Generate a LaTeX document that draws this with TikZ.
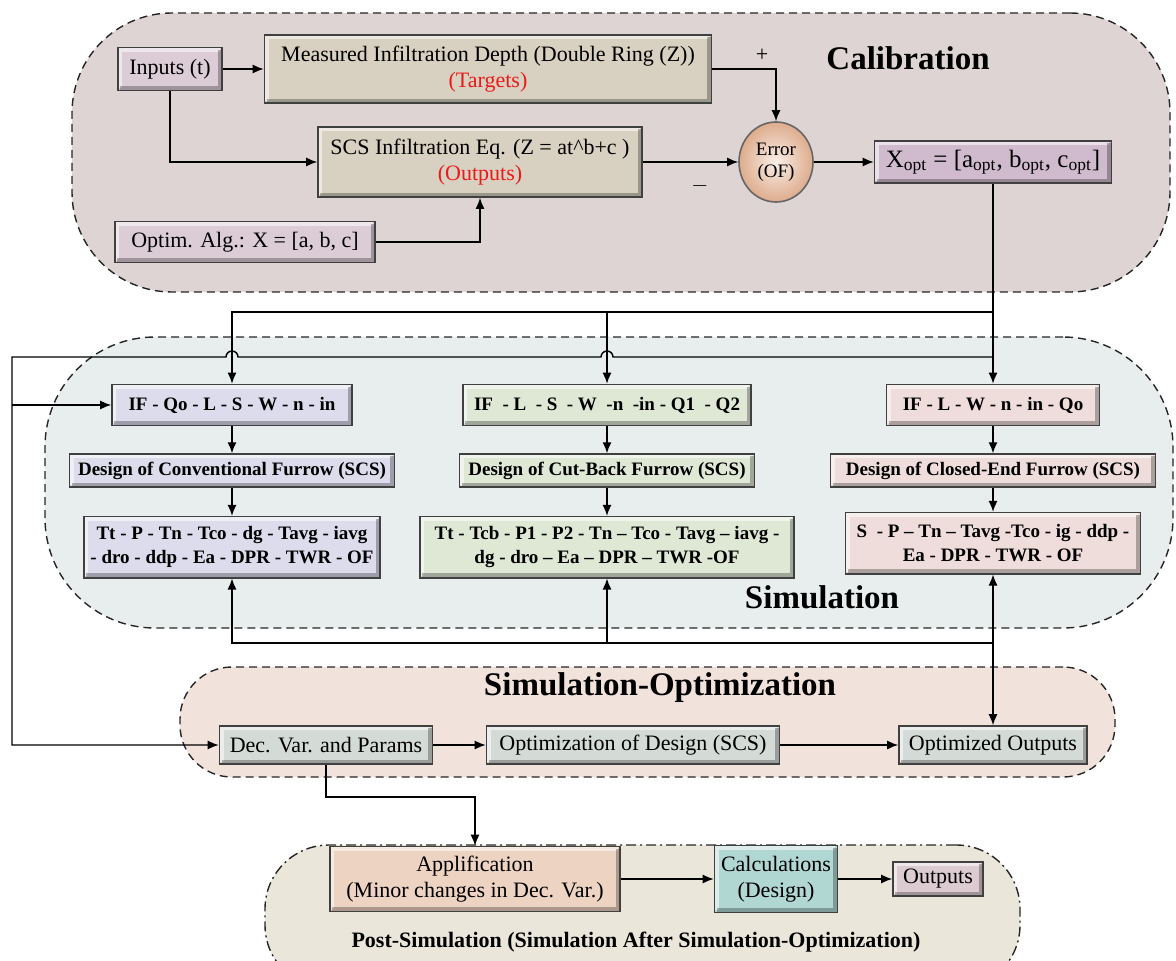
\documentclass[tikz,border=0pt]{standalone}
\usepackage{fontspec}
\setmainfont{Liberation Serif}
\usepackage{xcolor}
\usepackage{tikz}
\usetikzlibrary{arrows.meta,positioning,shapes.geometric}
\definecolor{calibbg}{RGB}{222,212,211}
\definecolor{simbg}{RGB}{232,238,238}
\definecolor{soptbg}{RGB}{241,227,220}
\definecolor{postbg}{RGB}{234,230,218}
\definecolor{mauve}{RGB}{219,204,214}
\definecolor{beige}{RGB}{216,208,192}
\definecolor{xoptc}{RGB}{208,187,206}
\definecolor{errc}{RGB}{222,172,140}
\definecolor{convc}{RGB}{220,220,236}
\definecolor{cutc}{RGB}{223,231,213}
\definecolor{closedc}{RGB}{238,221,219}
\definecolor{soptc}{RGB}{212,218,213}
\definecolor{appc}{RGB}{237,211,194}
\definecolor{calcc}{RGB}{177,215,210}
\definecolor{outc}{RGB}{220,204,209}
\definecolor{targred}{RGB}{235,25,25}
\tikzset{
  bevel/.style={draw=black!75, line width=0.8pt, align=center, inner sep=2pt,
    path picture={
      \draw[white, opacity=0.55, line width=2.2pt]
        ([shift={(1.1pt,1.1pt)}]path picture bounding box.south west)
        |- ([shift={(-1.1pt,-1.1pt)}]path picture bounding box.north east);
      \draw[black, opacity=0.28, line width=2.2pt]
        ([shift={(1.1pt,1.1pt)}]path picture bounding box.south west)
        -| ([shift={(-1.1pt,-1.1pt)}]path picture bounding box.north east);
    }},
  calbox/.style={bevel, font=\fontsize{11}{13}\selectfont},
  simbox/.style={bevel, font=\bfseries\fontsize{9.5}{12}\selectfont},
  zone/.style={draw=black!85, line width=0.7pt, dash pattern=on 4pt off 2.5pt},
  ztitle/.style={font=\bfseries\fontsize{16.5}{18}\selectfont},
  flowarr/.style={-{Latex[length=5.5pt,width=4.5pt]}, line width=0.7pt},
  botharr/.style={{Latex[length=5.5pt,width=4.5pt]}-{Latex[length=5.5pt,width=4.5pt]}, line width=0.7pt}
}
\begin{document}
\begin{tikzpicture}[x=0.5pt, y=-0.5pt]
  \path[use as bounding box] (0,0) rectangle (1176,961);

  % zones
  \node[zone, fill=calibbg, rounded corners=50pt,
        minimum width=549pt, minimum height=139.5pt] (calib) at (621,152.5) {};
  \node[zone, fill=simbg, rounded corners=55pt,
        minimum width=564pt, minimum height=145.5pt] (simz) at (609,482.5) {};
  \node[zone, fill=soptbg, rounded corners=26pt,
        minimum width=467.5pt, minimum height=55pt] (soptz) at (647.5,722) {};
  \begin{scope}
    \clip (0,0) rectangle (1176,961);
    \node[zone, dash pattern=on 5pt off 2pt on 1pt off 2pt, fill=postbg,
          rounded corners=32pt, minimum width=377.5pt, minimum height=72pt]
          (postz) at (642.5,917) {};
  \end{scope}

  \node[ztitle] (tcal) at (908,58) {Calibration};
  \node[ztitle] (tsim) at (822,597) {Simulation};
  \node[ztitle] (tsopt) at (660,688) {Simulation-Optimization};
  \node[font=\bfseries\fontsize{11}{13}\selectfont] (tpost) at (636,942)
        {Post-Simulation (Simulation After Simulation-Optimization)};

  % calibration
  \node[calbox, fill=mauve, minimum width=52pt, minimum height=21.5pt] (inp) at (170,69) {Inputs (t)};
  \node[calbox, fill=beige, minimum width=223.5pt, minimum height=34pt] (meas) at (488,69)
        {Measured Infiltration Depth (Double Ring (Z))\\\textcolor{targred}{(Targets)}};
  \node[calbox, fill=beige, minimum width=162pt, minimum height=35pt] (scs) at (480,162)
        {SCS Infiltration Eq. (Z = at\textasciicircum b+c )\\\textcolor{targred}{(Outputs)}};
  \node[calbox, fill=mauve, minimum width=130pt, minimum height=20.5pt] (optim) at (245,242)
        {Optim. Alg.: X = [a, b, c]};
  \node[ellipse, draw=black!60, line width=0.8pt, inner color=errc!20!white, outer color=errc,
        minimum width=37pt, minimum height=40pt, inner sep=0pt, align=center,
        font=\fontsize{9.5}{11}\selectfont] (err) at (776,162) {Error\\(OF)};
  \node[calbox, fill=xoptc, minimum width=118.5pt, minimum height=21pt,
        font=\fontsize{12.5}{14}\selectfont] (xopt) at (993,162)
        {X\textsubscript{opt} = [a\textsubscript{opt}, b\textsubscript{opt}, c\textsubscript{opt}]};
  \node[font=\fontsize{11}{13}\selectfont] (plus) at (762,55) {+};
  \node[font=\fontsize{11}{13}\selectfont] (minus) at (700,186) {$-$};

  \draw[flowarr] (inp) -- (meas);
  \draw[flowarr] (inp.south) |- (scs.west);
  \draw[flowarr] (optim.east) -| (scs.south);
  \draw[flowarr] (meas.east) -| (err.north);
  \draw[flowarr] (scs.east) -- (err.west);
  \draw[flowarr] (err.east) -- (xopt.west);

  % simulation
  \node[simbox, fill=convc, minimum width=120pt, minimum height=20.5pt] (in1) at (232,405)
        {IF - Qo - L - S - W - n - in};
  \node[simbox, fill=convc, minimum width=162.5pt, minimum height=16.5pt, below=13.5pt of in1] (des1)
        {Design of Conventional Furrow (SCS)};
  \node[simbox, fill=convc, minimum width=148pt, minimum height=30.5pt, below=14pt of des1] (out1)
        {Tt - P - Tn - Tco - dg - Tavg - iavg\\- dro - ddp - Ea - DPR - TWR - OF};

  \node[simbox, fill=cutc, minimum width=144pt, minimum height=20.5pt] (in2) at (607,405)
        {IF~ - L~ - S~ - W~ -n~ -in - Q1~ - Q2};
  \node[simbox, fill=cutc, minimum width=147.5pt, minimum height=16.5pt, below=13.5pt of in2] (des2)
        {Design of Cut-Back Furrow (SCS)};
  \node[simbox, fill=cutc, minimum width=187pt, minimum height=30.5pt, below=14pt of des2] (out2)
        {Tt - Tcb - P1 - P2 - Tn -- Tco - Tavg -- iavg -\\dg - dro -- Ea -- DPR -- TWR -OF};

  \node[simbox, fill=closedc, minimum width=106.5pt, minimum height=20.5pt] (in3) at (993,405)
        {IF - L - W - n - in - Qo};
  \node[simbox, fill=closedc, minimum width=162.5pt, minimum height=16.5pt, below=13.5pt of in3] (des3)
        {Design of Closed-End Furrow (SCS)};
  \node[simbox, fill=closedc, minimum width=147.5pt, minimum height=30.5pt, below=12pt of des3] (out3)
        {S~ - P -- Tn -- Tavg -Tco - ig - ddp -\\Ea - DPR - TWR - OF};

  \draw[flowarr] (in1) -- (des1);
  \draw[flowarr] (des1) -- (out1);
  \draw[flowarr] (in2) -- (des2);
  \draw[flowarr] (des2) -- (out2);
  \draw[flowarr] (in3) -- (des3);
  \draw[flowarr] (des3) -- (out3);

  % simulation-optimization
  \node[calbox, fill=soptc, minimum width=106.5pt, minimum height=19pt] (dec) at (326,745)
        {Dec. Var. and Params};
  \node[calbox, fill=soptc, minimum width=146.5pt, minimum height=19pt] (optd) at (633,745)
        {Optimization of Design (SCS)};
  \node[calbox, fill=soptc, minimum width=94pt, minimum height=19pt] (optout) at (993,745)
        {Optimized Outputs};
  \draw[flowarr] (dec) -- (optd);
  \draw[flowarr] (optd) -- (optout);

  % post-simulation
  \node[calbox, fill=appc, minimum width=145pt, minimum height=32.5pt] (app) at (475,879)
        {Applification\\(Minor changes in Dec. Var.)};
  \node[calbox, fill=calcc, minimum width=61.5pt, minimum height=33.5pt] (calc) at (776,879)
        {Calculations\\(Design)};
  \node[calbox, fill=outc, minimum width=45pt, minimum height=17pt] (outp) at (938,879)
        {Outputs};
  \draw[flowarr] (app) -- (calc);
  \draw[flowarr] (calc) -- (outp);
  \draw[flowarr] (dec.south) -- ++(0,32) -| (app.north);

  % links between zones
  \coordinate (bus) at (993,312);
  \coordinate (tap) at (993,357);
  \coordinate (loopL) at (12,357);
  \coordinate (fb) at (993,643);
  \coordinate (hop2) at (tap -| in2.north);
  \coordinate (hop1) at (tap -| in1.north);

  \draw[flowarr] (xopt.south) -- (in3.north);
  \draw[flowarr] (bus) -| (in1.north);
  \draw[flowarr] (bus -| in2.north) -- (in2.north);
  \draw[flowarr] (tap) -- ([xshift=3pt]hop2) arc[start angle=0, end angle=180, radius=3pt]
        -- ([xshift=3pt]hop1) arc[start angle=0, end angle=180, radius=3pt]
        -- (loopL) |- (dec.west);
  \draw[flowarr] (loopL |- in1.west) -- (in1.west);

  \draw[botharr] (out3.south) -- (optout.north);
  \draw[flowarr] (fb) -| (out1.south);
  \draw[flowarr] (fb -| out2.south) -- (out2.south);
\end{tikzpicture}
\end{document}
